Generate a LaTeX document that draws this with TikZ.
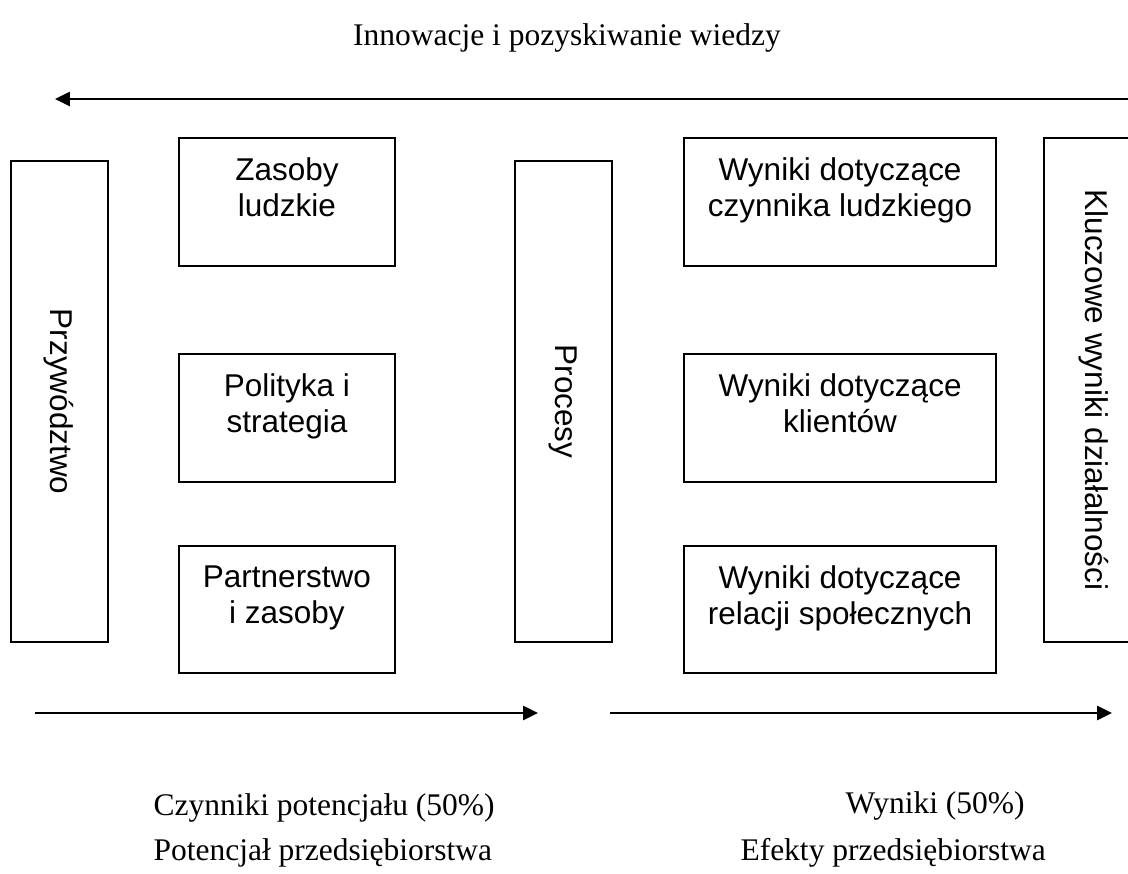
\documentclass[tikz,border=0pt]{standalone}
\usepackage{fontspec}
\setmainfont{Liberation Serif}
\setsansfont{Liberation Sans}
\usetikzlibrary{arrows.meta,positioning}

\begin{document}
\begin{tikzpicture}[x=0.381pt,y=-0.381pt,
		box/.style={rectangle,draw,line width=0.75pt,anchor=north west,inner sep=0pt},
		rowbox/.style={box,minimum height=48.8pt},
		colbox/.style={box,minimum height=183.3pt,minimum width=36.8pt},
		boxtext/.style={font=\sffamily\fontsize{12}{13.8}\selectfont,align=center,inner sep=0pt},
		sidetext/.style={font=\sffamily\fontsize{12}{13.8}\selectfont,rotate=-90,inner sep=0pt},
		caption/.style={font=\rmfamily\fontsize{12}{14}\selectfont,anchor=base west,inner sep=0pt},
		flow/.style={line width=0.75pt,-{Triangle[length=5.7pt,width=5.4pt]}}
		]
	\useasboundingbox (0,0) rectangle (1128,873);

	\node[caption,anchor=base](T0) at (567,45){Innowacje i pozyskiwanie wiedzy};
	\coordinate (A0) at (1135,99);
	\coordinate (A1) at (55,99);
	\draw[flow] (A0) -- (A1);

	\node[colbox](L0) at (10,160){};
	\node[sidetext] (L0t) at (L0.center){Przywództwo};

	\node[rowbox, minimum width=82.3pt](E1) at (178,137){};
	\node[boxtext, below=7.6pt of E1.north](E1t){Zasoby\\ludzkie};
	\node[rowbox, minimum width=82.3pt](E2) at (178,353){};
	\node[boxtext, below=7.6pt of E2.north](E2t){Polityka i\\strategia};
	\node[rowbox, minimum width=82.3pt, minimum height=48.4pt](E3) at (178,545){};
	\node[boxtext, below=7.6pt of E3.north](E3t){Partnerstwo\\i zasoby};

	\node[colbox](P0) at (514,160){};
	\node[sidetext] (P0t) at (P0.center){Procesy};

	\node[rowbox, minimum width=118.9pt](R1) at (683,137){};
	\node[boxtext, below=7.6pt of R1.north](R1t){Wyniki dotyczące\\czynnika ludzkiego};
	\node[rowbox, minimum width=118.9pt](R2) at (683,353){};
	\node[boxtext, below=7.6pt of R2.north](R2t){Wyniki dotyczące\\klientów};
	\node[rowbox, minimum width=118.9pt, minimum height=48.4pt](R3) at (683,545){};
	\node[boxtext, below=7.6pt of R3.north](R3t){Wyniki dotyczące\\relacji społecznych};

	\node[colbox, minimum width=38.1pt, minimum height=192pt](K0) at (1043,137){};
	\node[sidetext] (K0t) at (K0.center){Kluczowe wyniki działalności};

	\coordinate (B0) at (35,713);
	\coordinate (B1) at (538,713);
	\draw[flow] (B0) -- (B1);
	\coordinate (C0) at (610,713);
	\coordinate (C1) at (1112,713);
	\draw[flow] (C0) -- (C1);

	\node[caption](D1) at (153,815){Czynniki potencjału (50\%)};
	\node[caption](D2) at (153,860){Potencjał przedsiębiorstwa};
	\node[caption](F1) at (845,813){Wyniki (50\%)};
	\node[caption](F2) at (740,860){Efekty przedsiębiorstwa};
\end{tikzpicture}
\end{document}
